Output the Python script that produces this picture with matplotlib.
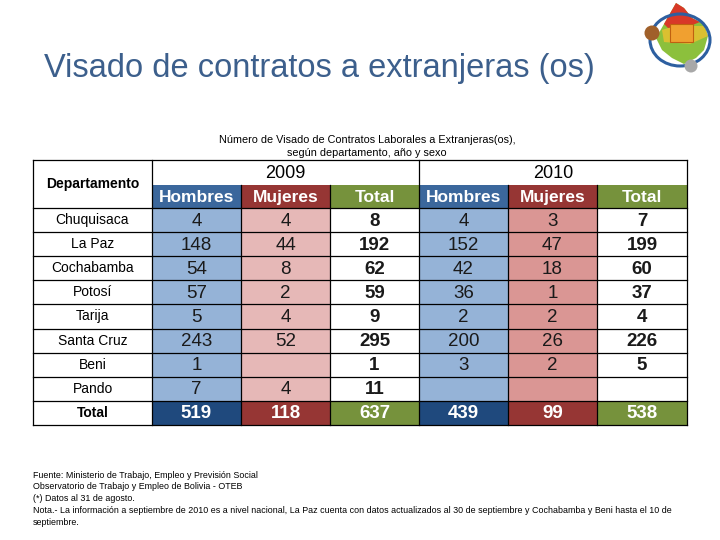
import numpy as np
import matplotlib.pyplot as plt
from matplotlib.patches import Rectangle, Ellipse, Circle, Polygon

plt.rcParams['font.family'] = ['Liberation Sans', 'DejaVu Sans']

departamentos = ["Chuquisaca", "La Paz", "Cochabamba", "Potosí", "Tarija",
                 "Santa Cruz", "Beni", "Pando"]
hombres_2009 = [4, 148, 54, 57, 5, 243, 1, 7]
mujeres_2009 = [4, 44, 8, 2, 4, 52, None, 4]
total_2009 = [8, 192, 62, 59, 9, 295, 1, 11]
hombres_2010 = [4, 152, 42, 36, 2, 200, 3, None]
mujeres_2010 = [3, 47, 18, 1, 2, 26, 2, None]
total_2010 = [7, 199, 60, 37, 4, 226, 5, None]
totales_2009 = [519, 118, 637]
totales_2010 = [439, 99, 538]
anios = ["2009", "2010"]
sexos = ["Hombres", "Mujeres", "Total"]

fig = plt.figure(figsize=(7.2, 5.4), dpi=100)
ax = fig.add_axes([0, 0, 1, 1])
ax.set_xlim(0, 720)
ax.set_ylim(540, 0)
ax.axis("off")

# titulo
ax.text(44, 68, "Visado de contratos a extranjeras (os)", fontsize=23.5,
        color="#3c5f8c", va="center", ha="left")

# logo (aproximado)
blob = [(664, 24), (672, 10), (676, 3), (684, 8), (692, 18), (704, 24), (708, 36),
        (704, 50), (696, 58), (684, 64), (672, 58), (662, 50), (656, 38)]
ax.add_patch(Polygon(blob, closed=True, fc="#8cc03c", ec="none"))
ax.add_patch(Polygon([(664, 24), (672, 10), (676, 3), (684, 8), (692, 18), (700, 22),
                      (690, 26), (668, 28)],
                     closed=True, fc="#d83828", ec="none"))
ax.add_patch(Polygon([(662, 30), (668, 28), (690, 26), (704, 26), (708, 36),
                      (690, 44), (664, 42)],
                     closed=True, fc="#e8c030", ec="none", alpha=0.85))
ax.add_patch(Ellipse((680, 40), 60, 52, fill=False, ec="#2d5fa0", lw=2.2))
ax.add_patch(Rectangle((670, 24), 23, 18, fc="#f0a030", ec="#c06010", lw=0.8))
ax.add_patch(Circle((652, 33), 7.5, fc="#a0602a", ec="none"))
ax.add_patch(Circle((691, 66), 6.5, fc="#a8a8a8", ec="none"))

# subtitulo
ax.text(367, 140, "Número de Visado de Contratos Laborales a Extranjeras(os),",
        fontsize=7.8, ha="center", va="center")
ax.text(367, 153, "según departamento, año y sexo", fontsize=7.8,
        ha="center", va="center")

# geometria de la tabla
x_dep = (33, 152)
col_x = [152, 241, 330, 419, 508, 597, 687]
y_top, y_year, y_head = 160, 185, 208
row_h = 24.1
n = len(departamentos)
y_bottom = y_head + row_h * (n + 1)

head_col = ["#3b679c", "#963634", "#76923c"]
body_col = [["#95b3d7", "#e6b8b7", "white"], ["#95b3d7", "#da9694", "white"]]
tot_col = ["#1f497d", "#963634", "#76923c"]

cols_2009 = [hombres_2009, mujeres_2009, total_2009]
cols_2010 = [hombres_2010, mujeres_2010, total_2010]

for b, (cols, tots) in enumerate([(cols_2009, totales_2009), (cols_2010, totales_2010)]):
    for c in range(3):
        x0 = col_x[b * 3 + c]
        x1 = col_x[b * 3 + c + 1]
        xc = (x0 + x1) / 2
        ax.add_patch(Rectangle((x0, y_year), x1 - x0, y_head - y_year,
                               fc=head_col[c], ec="none"))
        ax.text(xc, (y_year + y_head) / 2 + 1, sexos[c], color="white",
                fontsize=12.5, fontweight="bold", ha="center", va="center")
        ax.add_patch(Rectangle((x0, y_head), x1 - x0, row_h * n,
                               fc=body_col[b][c], ec="none"))
        for i, v in enumerate(cols[c]):
            if v is None:
                continue
            ax.text(xc, y_head + row_h * (i + 0.5) + 1, str(v), fontsize=13.5,
                    color="#1a1a1a", ha="center", va="center",
                    fontweight="bold" if c == 2 else "normal")
        yt = y_head + row_h * n
        ax.add_patch(Rectangle((x0, yt), x1 - x0, row_h, fc=tot_col[c], ec="none"))
        ax.text(xc, yt + row_h / 2 + 1, str(tots[c]), fontsize=13.5,
                color="white", fontweight="bold", ha="center", va="center")
    xa, xb = col_x[b * 3], col_x[b * 3 + 3]
    ax.text((xa + xb) / 2, (y_top + y_year) / 2 + 1, anios[b], fontsize=13,
            ha="center", va="center")

# departamentos
ax.text(sum(x_dep) / 2, (y_top + y_head) / 2, "Departamento", fontsize=10,
        fontweight="bold", ha="center", va="center")
for i, d in enumerate(departamentos):
    ax.text(sum(x_dep) / 2, y_head + row_h * (i + 0.5), d, fontsize=10,
            ha="center", va="center")
ax.text(sum(x_dep) / 2, y_head + row_h * (n + 0.5), "Total", fontsize=10,
        fontweight="bold", ha="center", va="center")

# bordes
lk = dict(color="black", lw=0.9)
for i in range(n + 1):
    y = y_head + row_h * (i + 1)
    ax.plot([x_dep[0], col_x[-1]], [y, y], **lk)
ax.plot([x_dep[0], col_x[-1]], [y_head, y_head], **lk)
ax.plot([x_dep[0], col_x[-1]], [y_top, y_top], **lk)
ax.plot([x_dep[0], x_dep[0]], [y_top, y_bottom], **lk)
ax.plot([col_x[-1], col_x[-1]], [y_top, y_bottom], **lk)
for x in col_x[:-1]:
    ax.plot([x, x], [y_year if x not in (152, 419) else y_top, y_bottom], **lk)

# notas
notas = ["Fuente: Ministerio de Trabajo, Empleo y Previsión Social",
         "Observatorio de Trabajo y Empleo de Bolivia - OTEB",
         "(*) Datos al 31 de agosto.",
         "Nota.- La información a septiembre de 2010 es a nivel nacional, La Paz cuenta con datos actualizados al 30 de septiembre y Cochabamba y Beni hasta el 10 de",
         "septiembre."]
for k, t in enumerate(notas):
    ax.text(33, 475 + k * 11.8, t, fontsize=6.4, ha="left", va="center")

fig.savefig("out.png", dpi=100)
